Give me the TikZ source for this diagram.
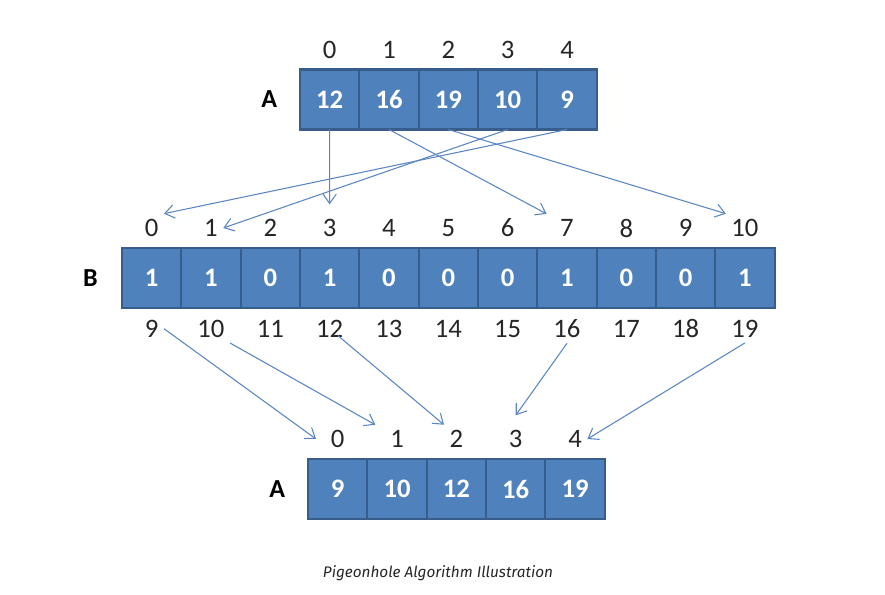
\documentclass[tikz,border=0pt]{standalone}
\usepackage{fontspec}
\setmainfont{Carlito}
\newfontfamily\capfont{Fira Sans}
\usepackage{xcolor}
\usetikzlibrary{arrows.meta,positioning}
\definecolor{slotBlue}{HTML}{4F81BD}
\definecolor{slotEdge}{HTML}{385D8A}
\definecolor{linkBlue}{HTML}{5A86C3}

\tikzset{
  slot/.style={draw=slotEdge, line width=1.6pt, fill=slotBlue, text=white, font=\fontsize{20}{22}\selectfont\bfseries, minimum width=44.5pt, minimum height=45pt, inner sep=0pt, outer sep=0pt},
  idx/.style={font=\fontsize{20}{22}\selectfont, text=black!85, inner sep=4pt},
  arrname/.style={font=\fontsize{19.5}{22}\selectfont\bfseries, inner sep=0pt},
  link/.style={-{Straight Barb[length=7pt,width=10pt]}, linkBlue, line width=0.8pt},
  caption/.style={font=\capfont\itshape\fontsize{11.5}{13}\selectfont, text=black!85}
}

\begin{document}
\begin{tikzpicture}[x=0.75pt, y=-0.75pt]
\useasboundingbox (0,0) rectangle (885,595);

% input array A
\node[slot] (a0) at (329.7,99.5) {12};
\node[slot, right=0pt of a0] (a1) {16};
\node[slot, right=0pt of a1] (a2) {19};
\node[slot, right=0pt of a2] (a3) {10};
\node[slot, right=0pt of a3] (a4) {9};
\node[arrname, left=17pt of a0] (atop) {A};
\node[idx] (ai0) at ([yshift=15pt]a0.north) {0};
\node[idx] (ai1) at ([yshift=15pt]a1.north) {1};
\node[idx] (ai2) at ([yshift=15pt]a2.north) {2};
\node[idx] (ai3) at ([yshift=15pt]a3.north) {3};
\node[idx] (ai4) at ([yshift=15pt]a4.north) {4};

% holes B
\node[slot] (b0) at (151.6,278) {1};
\node[slot, right=0pt of b0] (b1) {1};
\node[slot, right=0pt of b1] (b2) {0};
\node[slot, right=0pt of b2] (b3) {1};
\node[slot, right=0pt of b3] (b4) {0};
\node[slot, right=0pt of b4] (b5) {0};
\node[slot, right=0pt of b5] (b6) {0};
\node[slot, right=0pt of b6] (b7) {1};
\node[slot, right=0pt of b7] (b8) {0};
\node[slot, right=0pt of b8] (b9) {0};
\node[slot, right=0pt of b9] (b10) {1};
\node[arrname, left=18pt of b0] (bname) {B};
\node[idx] (bi0) at ([yshift=15pt]b0.north) {0};
\node[idx] (bi1) at ([yshift=15pt]b1.north) {1};
\node[idx] (bi2) at ([yshift=15pt]b2.north) {2};
\node[idx] (bi3) at ([yshift=15pt]b3.north) {3};
\node[idx] (bi4) at ([yshift=15pt]b4.north) {4};
\node[idx] (bi5) at ([yshift=15pt]b5.north) {5};
\node[idx] (bi6) at ([yshift=15pt]b6.north) {6};
\node[idx] (bi7) at ([yshift=15pt]b7.north) {7};
\node[idx] (bi8) at ([yshift=15pt]b8.north) {8};
\node[idx] (bi9) at ([yshift=15pt]b9.north) {9};
\node[idx] (bi10) at ([yshift=15pt]b10.north) {10};
\node[idx] (bl0) at ([yshift=-15.5pt]b0.south) {9};
\node[idx] (bl1) at ([yshift=-15.5pt]b1.south) {10};
\node[idx] (bl2) at ([yshift=-15.5pt]b2.south) {11};
\node[idx] (bl3) at ([yshift=-15.5pt]b3.south) {12};
\node[idx] (bl4) at ([yshift=-15.5pt]b4.south) {13};
\node[idx] (bl5) at ([yshift=-15.5pt]b5.south) {14};
\node[idx] (bl6) at ([yshift=-15.5pt]b6.south) {15};
\node[idx] (bl7) at ([yshift=-15.5pt]b7.south) {16};
\node[idx] (bl8) at ([yshift=-15.5pt]b8.south) {17};
\node[idx] (bl9) at ([yshift=-15.5pt]b9.south) {18};
\node[idx] (bl10) at ([yshift=-15.5pt]b10.south) {19};

% sorted array A
\node[slot] (c0) at (337.7,489) {9};
\node[slot, right=0pt of c0] (c1) {10};
\node[slot, right=0pt of c1] (c2) {12};
\node[slot, right=0pt of c2] (c3) {16};
\node[slot, right=0pt of c3] (c4) {19};
\node[arrname, left=17pt of c0] (abot) {A};
\node[idx] (ci0) at ([yshift=15pt]c0.north) {0};
\node[idx] (ci1) at ([yshift=15pt]c1.north) {1};
\node[idx] (ci2) at ([yshift=15pt]c2.north) {2};
\node[idx] (ci3) at ([yshift=15pt]c3.north) {3};
\node[idx] (ci4) at ([yshift=15pt]c4.north) {4};

% into the holes
\draw[link] (a0.south) -- ([yshift=7pt]bi3.north);
\draw[link] (a1.south) -- ([xshift=-6pt]bi7.north west);
\draw[link] (a2.south) -- (bi10.north west);
\draw[link] (a3.south) -- (bi1.east);
\draw[link] (a4.south) -- (bi0.north east);

% back out in order
\draw[link] (bl0.east) -- ([xshift=-7pt]ci0.west);
\draw[link] (bl1.south east) -- ([xshift=-7pt]ci1.north west);
\draw[link, shorten <=8pt] (bl3.center) -- (ci2.north west);
\draw[link] (bl7.south) -- ([yshift=7pt]ci3.north);
\draw[link] (bl10.south) -- (ci4.east);

\node[caption] (cap) at (438,573) {Pigeonhole Algorithm Illustration};
\end{tikzpicture}
\end{document}
